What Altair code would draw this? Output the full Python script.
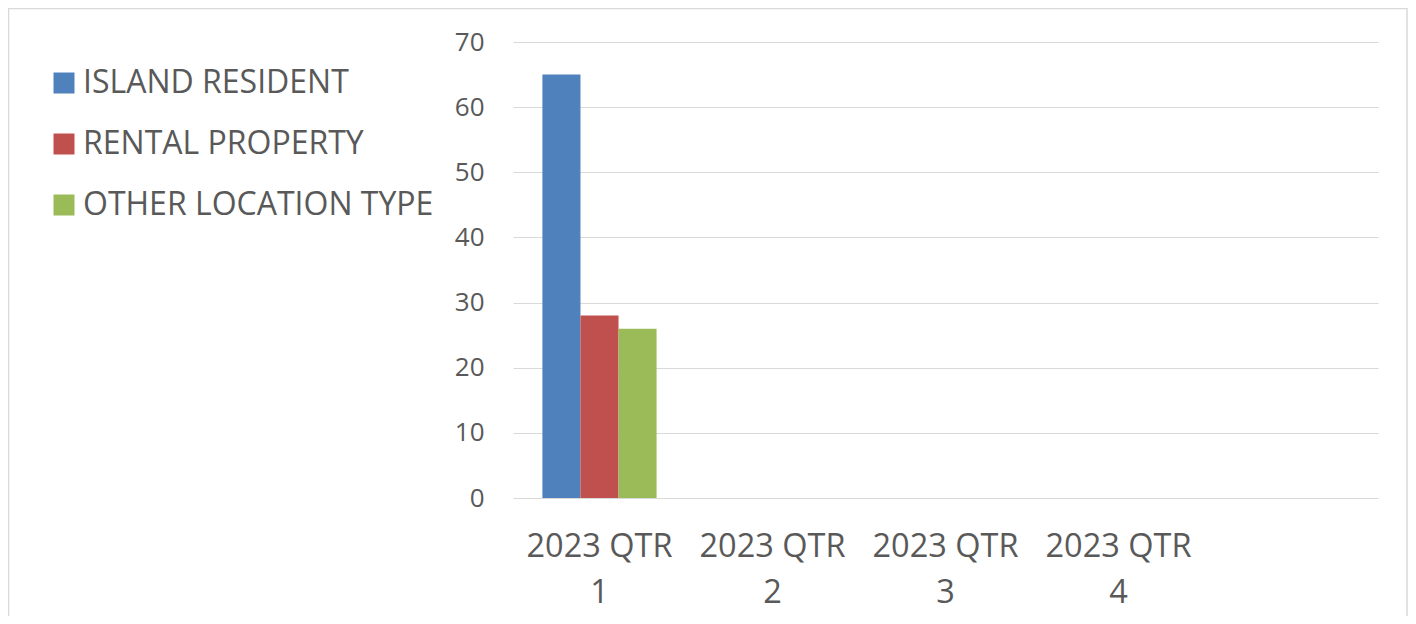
import altair as alt
import pandas as pd

quarters = ["2023 QTR 1", "2023 QTR 2", "2023 QTR 3", "2023 QTR 4", " "]
series = ["ISLAND RESIDENT", "RENTAL PROPERTY", "OTHER LOCATION TYPE"]
colors = ["#4F81BD", "#C0504D", "#9BBB59"]
island = [65, None, None, None, None]
rental = [28, None, None, None, None]
other = [26, None, None, None, None]

rows = []
for s, vals in zip(series, [island, rental, other]):
    for q, v in zip(quarters, vals):
        if v is not None:
            rows.append({"quarter": q, "series": s, "value": v})
df = pd.DataFrame(rows)

FONT = "Open Sans"
TXT = "#595959"
GRID = "#d9d9d9"

bars = alt.Chart(df).mark_bar().encode(
    x=alt.X("quarter:N", sort=quarters,
            scale=alt.Scale(domain=quarters, paddingInner=0.34, paddingOuter=0.17),
            axis=alt.Axis(title=None, domain=False, ticks=False, grid=False, labelAngle=0,
                          labelFontSize=32.5, labelColor=TXT, labelFont=FONT,
                          labelPadding=32, labelLineHeight=46, labelBaseline="top",
                          labelExpr="[slice(datum.value, 0, 8), slice(datum.value, 9)]")),
    xOffset=alt.XOffset("series:N", sort=series,
                        scale=alt.Scale(domain=series, paddingInner=0, paddingOuter=0)),
    y=alt.Y("value:Q", scale=alt.Scale(domain=[0, 70], nice=False),
            axis=alt.Axis(title=None, domain=False, ticks=False, values=list(range(0, 71, 10)),
                          labelFontSize=26, labelColor=TXT, labelFont=FONT, labelPadding=29,
                          gridColor=GRID, gridWidth=1)),
    color=alt.Color("series:N", sort=series,
                    scale=alt.Scale(domain=series, range=colors),
                    legend=alt.Legend(title=None, orient="none", legendX=-465, legendY=25,
                                      direction="vertical", symbolType="square", symbolSize=441,
                                      symbolStrokeWidth=0, symbolOpacity=1,
                                      labelFontSize=32, labelColor=TXT, labelFont=FONT,
                                      labelOffset=3, rowPadding=29, padding=0,
                                      labelLimit=500)),
)

frame = alt.Chart(pd.DataFrame({"a": [0]})).mark_rect(
    fillOpacity=0, stroke=GRID, strokeWidth=1.5
).encode(
    x=alt.value(-504.5), x2=alt.value(894), y=alt.value(-33.5), y2=alt.value(640)
)

chart = alt.layer(frame, bars).properties(
    width=865, height=456,
    background="white",
    padding={"left": 505, "top": 34, "right": 30, "bottom": 118},
    autosize=alt.AutoSizeParams(type="none"),
).configure_view(stroke=None)

chart.save("out.html", embed_options={"renderer": "svg", "actions": False})
